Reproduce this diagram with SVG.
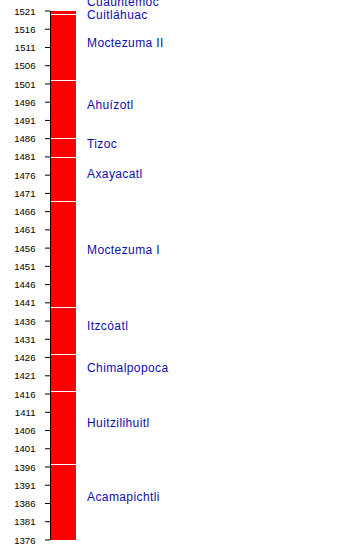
<svg xmlns="http://www.w3.org/2000/svg" width="360" height="550" viewBox="0 0 360 550">
<style>
.yr{font-family:"Liberation Sans",Arial,sans-serif;font-size:9.6px;fill:#000;text-anchor:end}
.lbl{font-family:"Liberation Sans",Arial,sans-serif;font-size:12px;fill:#0c0cb8;letter-spacing:0.4px}
.tick{stroke:#000;stroke-width:1}
.sep{stroke:#fff;stroke-width:1}
</style>
<rect width="360" height="550" fill="#fff"/>
<g id="bar">
<rect x="51" y="11" width="25" height="529" fill="#ff0000"/>
</g>
<g id="separators">
<line class="sep" x1="51" x2="76" y1="14.5" y2="14.5"/>
<line class="sep" x1="51" x2="76" y1="80.5" y2="80.5"/>
<line class="sep" x1="51" x2="76" y1="138.5" y2="138.5"/>
<line class="sep" x1="51" x2="76" y1="157.5" y2="157.5"/>
<line class="sep" x1="51" x2="76" y1="201.5" y2="201.5"/>
<line class="sep" x1="51" x2="76" y1="307.5" y2="307.5"/>
<line class="sep" x1="51" x2="76" y1="354.5" y2="354.5"/>
<line class="sep" x1="51" x2="76" y1="391.5" y2="391.5"/>
<line class="sep" x1="51" x2="76" y1="464.5" y2="464.5"/>
</g>
<g id="axis">
<line class="tick" x1="50.5" x2="50.5" y1="11" y2="540"/>
<g id="ticks">
<line class="tick" x1="45" x2="50" y1="11" y2="11"/>
<line class="tick" x1="45" x2="50" y1="29.24" y2="29.24"/>
<line class="tick" x1="45" x2="50" y1="47.48" y2="47.48"/>
<line class="tick" x1="45" x2="50" y1="65.72" y2="65.72"/>
<line class="tick" x1="45" x2="50" y1="83.96" y2="83.96"/>
<line class="tick" x1="45" x2="50" y1="102.2" y2="102.2"/>
<line class="tick" x1="45" x2="50" y1="120.44" y2="120.44"/>
<line class="tick" x1="45" x2="50" y1="138.68" y2="138.68"/>
<line class="tick" x1="45" x2="50" y1="156.92" y2="156.92"/>
<line class="tick" x1="45" x2="50" y1="175.16" y2="175.16"/>
<line class="tick" x1="45" x2="50" y1="193.4" y2="193.4"/>
<line class="tick" x1="45" x2="50" y1="211.64" y2="211.64"/>
<line class="tick" x1="45" x2="50" y1="229.88" y2="229.88"/>
<line class="tick" x1="45" x2="50" y1="248.12" y2="248.12"/>
<line class="tick" x1="45" x2="50" y1="266.36" y2="266.36"/>
<line class="tick" x1="45" x2="50" y1="284.6" y2="284.6"/>
<line class="tick" x1="45" x2="50" y1="302.84" y2="302.84"/>
<line class="tick" x1="45" x2="50" y1="321.08" y2="321.08"/>
<line class="tick" x1="45" x2="50" y1="339.32" y2="339.32"/>
<line class="tick" x1="45" x2="50" y1="357.56" y2="357.56"/>
<line class="tick" x1="45" x2="50" y1="375.8" y2="375.8"/>
<line class="tick" x1="45" x2="50" y1="394.04" y2="394.04"/>
<line class="tick" x1="45" x2="50" y1="412.28" y2="412.28"/>
<line class="tick" x1="45" x2="50" y1="430.52" y2="430.52"/>
<line class="tick" x1="45" x2="50" y1="448.76" y2="448.76"/>
<line class="tick" x1="45" x2="50" y1="467" y2="467"/>
<line class="tick" x1="45" x2="50" y1="485.24" y2="485.24"/>
<line class="tick" x1="45" x2="50" y1="503.48" y2="503.48"/>
<line class="tick" x1="45" x2="50" y1="521.72" y2="521.72"/>
<line class="tick" x1="45" x2="50" y1="539.96" y2="539.96"/>
</g>
<g id="tick-labels">
<text class="yr" x="35.5" y="14.5">1521</text>
<text class="yr" x="35.5" y="32.7">1516</text>
<text class="yr" x="35.5" y="51">1511</text>
<text class="yr" x="35.5" y="69.2">1506</text>
<text class="yr" x="35.5" y="87.5">1501</text>
<text class="yr" x="35.5" y="105.7">1496</text>
<text class="yr" x="35.5" y="123.9">1491</text>
<text class="yr" x="35.5" y="142.2">1486</text>
<text class="yr" x="35.5" y="160.4">1481</text>
<text class="yr" x="35.5" y="178.7">1476</text>
<text class="yr" x="35.5" y="196.9">1471</text>
<text class="yr" x="35.5" y="215.1">1466</text>
<text class="yr" x="35.5" y="233.4">1461</text>
<text class="yr" x="35.5" y="251.6">1456</text>
<text class="yr" x="35.5" y="269.9">1451</text>
<text class="yr" x="35.5" y="288.1">1446</text>
<text class="yr" x="35.5" y="306.3">1441</text>
<text class="yr" x="35.5" y="324.6">1436</text>
<text class="yr" x="35.5" y="342.8">1431</text>
<text class="yr" x="35.5" y="361.1">1426</text>
<text class="yr" x="35.5" y="379.3">1421</text>
<text class="yr" x="35.5" y="397.5">1416</text>
<text class="yr" x="35.5" y="415.8">1411</text>
<text class="yr" x="35.5" y="434">1406</text>
<text class="yr" x="35.5" y="452.3">1401</text>
<text class="yr" x="35.5" y="470.5">1396</text>
<text class="yr" x="35.5" y="488.7">1391</text>
<text class="yr" x="35.5" y="507">1386</text>
<text class="yr" x="35.5" y="525.2">1381</text>
<text class="yr" x="35.5" y="543.5">1376</text>
</g>
</g>
<g id="labels">
<text id="cuauhtemoc" class="lbl" x="87" y="5.5">Cuauhtémoc</text>
<text id="cuitlahuac" class="lbl" x="87" y="19">Cuitláhuac</text>
<text id="moctezuma2" class="lbl" x="87" y="47">Moctezuma II</text>
<text id="ahuizotl" class="lbl" x="87" y="108.5">Ahuízotl</text>
<text id="tizoc" class="lbl" x="87" y="147.5">Tizoc</text>
<text id="axayacatl" class="lbl" x="87" y="178">Axayacatl</text>
<text id="moctezuma1" class="lbl" x="87" y="253.5">Moctezuma I</text>
<text id="itzcoatl" class="lbl" x="87" y="330">Itzcóatl</text>
<text id="chimalpopoca" class="lbl" x="87" y="371.5">Chimalpopoca</text>
<text id="huitzilihuitl" class="lbl" x="87" y="426.5">Huitzilihuitl</text>
<text id="acamapichtli" class="lbl" x="87" y="500.5">Acamapichtli</text>
</g>
</svg>
